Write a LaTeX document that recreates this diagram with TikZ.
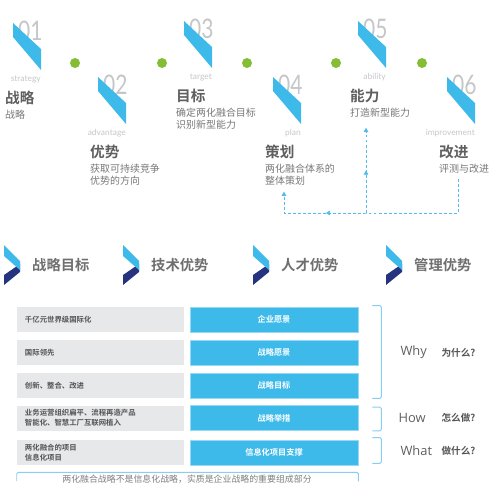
\documentclass[tikz,border=0pt]{standalone}
\usepackage{fontspec}
\setmainfont{Noto Sans CJK SC}[BoldFont={Noto Sans CJK SC Bold}]
\newfontfamily\numfont{Lato}
\newfontfamily\enfont{Open Sans}
\usetikzlibrary{arrows.meta,positioning,calc,decorations.markings}
\definecolor{sky}{RGB}{62,186,234}
\definecolor{navy}{RGB}{38,52,128}
\definecolor{leaf}{RGB}{133,190,52}
\definecolor{rowgrey}{RGB}{231,232,234}
\definecolor{ink}{RGB}{95,95,95}
\definecolor{mist}{RGB}{196,198,200}
\definecolor{flowblue}{RGB}{84,188,236}
\definecolor{rim}{RGB}{135,206,242}
\tikzset{
  >={Triangle[length=1.3mm,width=1.4mm]},
  numtxt/.style={font=\numfont\fontsize{23}{23}\selectfont,text=mist,inner sep=0,anchor=west},
  entxt/.style={font=\numfont\fontsize{7.2}{8}\selectfont,text=mist,inner sep=0,anchor=east},
  headtxt/.style={font=\fontsize{12.5}{14}\selectfont\bfseries,text=ink,inner sep=0,anchor=west},
  subtxt/.style={font=\fontsize{8.5}{10.2}\selectfont,text=ink!85,inner sep=0,anchor=north west,align=left},
  secttxt/.style={font=\fontsize{12.2}{14}\selectfont\bfseries,text=ink!90,inner sep=0,anchor=west},
  greyrow/.style={fill=rowgrey,minimum width=50.1mm,minimum height=7.5mm,inner xsep=2.4mm,
    text width=45.3mm,align=left,font=\fontsize{6.3}{8.5}\selectfont\bfseries,text=ink!90!black},
  bluerow/.style={fill=sky,draw=sky!55!white,line width=0.5pt,minimum width=50.4mm,minimum height=7.5mm,
    align=center,font=\fontsize{7}{8}\selectfont\bfseries,text=white},
  brack/.style={draw=rim,line width=0.8pt,rounded corners=1.2pt},
  qen/.style={font=\enfont\fontsize{11}{12}\selectfont,text=ink,inner sep=0,anchor=west},
  qzh/.style={font=\fontsize{8.2}{9}\selectfont\bfseries,text=ink!90!black,inner sep=0,anchor=west},
  notetxt/.style={font=\fontsize{7.6}{8}\selectfont,text=ink!80,inner sep=0},
  feedback/.style={draw=flowblue,line width=0.7pt,dash pattern=on 2.5pt off 1.8pt},
  midarrow/.style={postaction={decorate},decoration={markings,mark=at position #1 with {\arrow{>}}}},
  % pictograms
  pics/slash/.style={code={
    \fill[#1] (0,0) -- (28,26) -- (28,47) -- (0,14) -- cycle;
  }},
  pics/slash/.default=sky,
  pics/chevron/.style={code={
    \fill[navy] (16,19) -- (16,27) -- (0,40) -- (0,30) -- cycle;
    \fill[sky] (0,0) -- (16,16) -- (16,25) -- (0,11) -- cycle;
  }},
}
\begin{document}
\begin{tikzpicture}[x=0.3mm,y=-0.3mm]
  \useasboundingbox (0,0) rectangle (500,500);
  % six steps
  \foreach \x in {75,162,247,336,422} \fill[leaf] (\x,63) circle (1.5mm);
  \foreach \n/\x/\y/\en/\zh/\sub in {01/13/23/strategy/战略/战略,
    02/98/77/advantage/优势/{获取可持续竞争\\优势的方向},
    03/184/21/target/目标/{确定两化融合目标\\识别新型能力},
    04/273/77/plan/策划/{两化融合体系的\\整体策划},
    05/358/21/ability/能力/打造新型能力,
    06/447/77/improvement/改进/评测与改进}{
    \node[numtxt] (n\n) at (\x+5,\y+8) {\scalebox{0.78}[1]{\n}};
    \pic at (\x,\y) {slash};
    \node[entxt] (e\n) at (\x+28,\y+56) {\en};
    \node[headtxt] (h\n) at (\x-8,\y+75) {\zh};
    \node[subtxt] (s\n) at (\x-8,\y+87) {\sub};
  }
  \coordinate (fb) at ($(s06.south west)+(19,5)$);
  \coordinate (hub) at ($(s05.west)+(16,0)$ |- fb);
  \coordinate (hub) at (hub |- 0,213);
  \draw[feedback,->,midarrow=0.725] (fb) |- (hub) -| ($(s04.south west)+(19,6)$);
  \draw[feedback,->,midarrow=0.5] (hub) -- ($(s05.south west)+(16,10)$);
  % four advantages
  \foreach \x/\t [count=\i] in {4/战略目标,123/技术优势,253/人才优势,386/管理优势}{
    \pic at (\x,245) {chevron};
    \node[secttxt] (t\i) at (\x+28,265) {\t};
  }
  % table
  \foreach \y/\l/\r [count=\i] in {319.5/千亿元世界级国际化/企业愿景,352.5/国际领先/战略愿景,
    385.5/{创新、整合、改进}/战略目标,
    418/{业务运营组织扁平、流程再造产品\\智能化、智慧工厂互联网植入}/战略举措,
    452.5/{两化融合的项目\\信息化项目}/信息化项目支撑}{
    \node[greyrow] (g\i) at (100.5,\y) {\l};
    \node[bluerow] (b\i) at (274,\y) {\r};
  }
  \draw[brack] ($(b1.north east)+(14,-1)$) -- ++(9,0) |- ($(b3.south east)+(14,0)$);
  \draw[brack] ($(b4.north east)+(14,2)$) -- ++(9,0) |- ($(b4.south east)+(14,0)$);
  \draw[brack] ($(b5.north east)+(14,-2)$) -- ++(9,0) |- ($(b5.south east)+(14,-2)$);
  \node[qen] (why) at ($(b2.east)+(42,0)$) {Why};
  \node[qzh] (whyzh) at ($(b2.east)+(83,0)$) {为什么?};
  \node[qen] (how) at ($(b4.east)+(40,0)$) {How};
  \node[qzh] (howzh) at ($(b4.east)+(83,0)$) {怎么做?};
  \node[qen] (what) at ($(b5.east)+(42,-2)$) {What};
  \node[qzh] (whatzh) at ($(b5.east)+(83,-2)$) {做什么?};
  \draw[brack] ($(g5.south west)+(0,16)$) |- ($(b5.south east)+(0,7)$) -- ++(0,9);
  \node[notetxt] (note) at (187,479) {两化融合战略不是信息化战略，实质是企业战略的重要组成部分};
\end{tikzpicture}
\end{document}
